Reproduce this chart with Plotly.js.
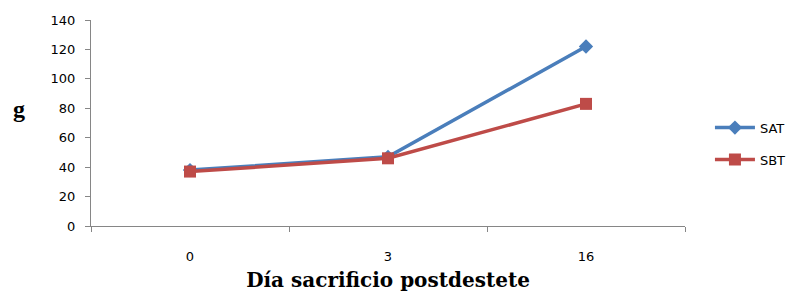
<!DOCTYPE html>
<html><head><meta charset="utf-8">
<script src="https://cdn.plot.ly/plotly-3.0.1.min.js"></script>
<style>body{margin:0;background:#fff}#c{width:788px;height:297px}</style>
</head><body><div id="c"></div>
<script>
const categories = ["0", "3", "16"];
const satValues = [38, 47, 122];
const sbtValues = [37, 46, 83];
const yTicks = [0, 20, 40, 60, 80, 100, 120, 140];

const traces = [
  {x: categories, y: satValues, name: "SAT", legendgroup: "a", type: "scatter", mode: "lines+markers",
   line: {color: "#4a7ebb", width: 3.5}, marker: {symbol: "diamond", size: 11, color: "#4a7ebb"}},
  {x: categories, y: sbtValues, name: "SBT", legendgroup: "b", type: "scatter", mode: "lines+markers",
   line: {color: "#be4b48", width: 3.5}, marker: {symbol: "square", size: 12, color: "#be4b48"}}
];
const layout = {
  width: 788, height: 297,
  margin: {l: 91, r: 103, t: 20, b: 71, autoexpand: false},
  paper_bgcolor: "#fff", plot_bgcolor: "#fff",
  showlegend: true,
  legend: {x: 1.042, y: 0.40, xanchor: "left", yanchor: "middle",
           font: {family: "DejaVu Sans", size: 13, color: "#000"}, tracegroupgap: 12, itemwidth: 40},
  xaxis: {type: "category", range: [-0.5, 2.5], showline: true, linecolor: "#868686", linewidth: 1,
          ticks: "outside", ticklen: 5, tickcolor: "#868686", showgrid: false, zeroline: false,
          tickson: "boundaries", ticklabelstandoff: 18,
          tickfont: {family: "DejaVu Sans", size: 13, color: "#000"},
          title: {text: "<b>Día sacrificio postdestete</b>", standoff: 10,
                  font: {family: "DejaVu Serif", size: 20, color: "#000"}}},
  yaxis: {range: [0, 140], tickvals: yTicks, showline: true, linecolor: "#868686", linewidth: 1,
          ticks: "outside", ticklen: 5, tickcolor: "#868686", showgrid: false, zeroline: false,
          ticklabelstandoff: 7,
          tickfont: {family: "DejaVu Sans", size: 13, color: "#000"}},
  annotations: [{text: "<b>g</b>", xref: "paper", yref: "paper", x: -0.121, y: 0.57,
                 xanchor: "center", yanchor: "middle", showarrow: false,
                 font: {family: "Liberation Serif", size: 24, color: "#000"}}]
};
Plotly.newPlot("c", traces, layout, {displayModeBar: false, staticPlot: true});
</script></body></html>
